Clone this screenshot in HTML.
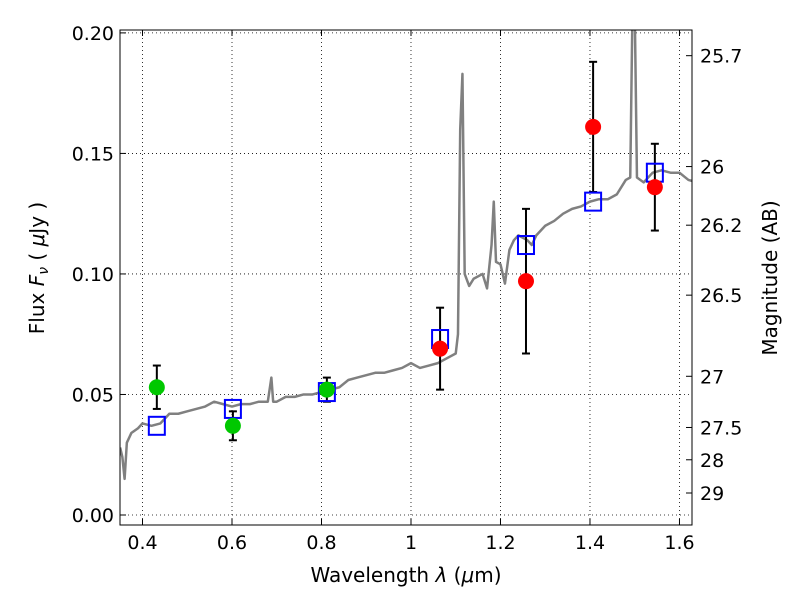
<!DOCTYPE html>
<html><head><meta charset="utf-8"><style>
body{margin:0;background:#fff;}
svg{display:block;font-family:"DejaVu Sans","Liberation Sans",sans-serif;}
</style></head><body>
<svg id="chart" width="800" height="600"></svg>
<script>
const specLam=[0.350,0.355,0.36,0.365,0.375,0.39,0.40,0.42,0.44,0.46,0.48,0.50,0.52,0.54,0.56,0.58,0.60,0.62,0.64,0.66,0.68,0.688,0.692,0.70,0.72,0.74,0.76,0.78,0.80,0.82,0.84,0.86,0.88,0.90,0.92,0.94,0.96,0.98,1.00,1.02,1.04,1.06,1.08,1.10,1.105,1.11,1.115,1.12,1.13,1.14,1.16,1.17,1.18,1.185,1.19,1.20,1.21,1.22,1.23,1.24,1.25,1.26,1.27,1.28,1.30,1.32,1.34,1.36,1.38,1.40,1.42,1.44,1.46,1.48,1.49,1.495,1.50,1.505,1.52,1.54,1.56,1.58,1.60,1.62,1.64];
const specFlux=[0.028,0.024,0.015,0.030,0.034,0.036,0.038,0.037,0.038,0.042,0.042,0.043,0.044,0.045,0.047,0.046,0.045,0.046,0.046,0.047,0.047,0.057,0.047,0.047,0.049,0.049,0.050,0.050,0.051,0.052,0.053,0.056,0.057,0.058,0.059,0.059,0.060,0.061,0.063,0.061,0.062,0.063,0.065,0.067,0.075,0.160,0.183,0.100,0.095,0.098,0.100,0.094,0.112,0.130,0.105,0.104,0.096,0.110,0.114,0.116,0.115,0.114,0.112,0.116,0.120,0.122,0.125,0.127,0.128,0.130,0.131,0.131,0.133,0.139,0.140,0.21,0.21,0.140,0.138,0.142,0.143,0.142,0.142,0.139,0.138];
const greenLam=[0.432,0.602,0.812];
const greenFlux=[0.053,0.037,0.052];
const greenErr=[0.009,0.006,0.005];
const redLam=[1.065,1.257,1.407,1.545];
const redFlux=[0.069,0.097,0.161,0.136];
const redErr=[0.017,0.030,0.027,0.018];
const modelLam=[0.432,0.602,0.812,1.065,1.257,1.407,1.545];
const modelFlux=[0.037,0.044,0.051,0.073,0.112,0.130,0.142];
const xTicks=[0.4,0.6,0.8,1.0,1.2,1.4,1.6];
const xTickLabels=["0.4","0.6","0.8","1","1.2","1.4","1.6"];
const yTicks=[0,0.05,0.10,0.15,0.20];
const yTickLabels=["0.00","0.05","0.10","0.15","0.20"];
const magTicks=[25.7,26,26.2,26.5,27,27.5,28,29];
const magTickLabels=["25.7","26","26.2","26.5","27","27.5","28","29"];

const L=120,R=692,T=30,B=525;
const xmin=0.3497,xmax=1.628, ymin=-0.00415, ymax=0.2012;
const X=v=>L+(v-xmin)/(xmax-xmin)*(R-L);
const Y=v=>B-(v-ymin)/(ymax-ymin)*(B-T);
const NS="http://www.w3.org/2000/svg";
const svg=document.getElementById('chart');
function mk(tag,attrs,parent){const e=document.createElementNS(NS,tag);for(const k in attrs)e.setAttribute(k,attrs[k]);(parent||svg).appendChild(e);return e;}

const defs=mk('defs',{});
const cp=mk('clipPath',{id:'clip'},defs);mk('rect',{x:L,y:T,width:R-L,height:B-T},cp);

xTicks.forEach(v=>{const l=mk('line',{x1:X(v),x2:X(v),y1:T,y2:B,stroke:'#000','stroke-width':0.8,'stroke-dasharray':'1,3'});});
yTicks.forEach(v=>{const l=mk('line',{x1:L,x2:R,y1:Y(v),y2:Y(v),stroke:'#000','stroke-width':0.8,'stroke-dasharray':'1,3'});});

const g=mk('g',{'clip-path':'url(#clip)'});

const sp=mk('polyline',{points:specLam.map((l,i)=>X(l)+','+Y(specFlux[i])).join(' '),fill:'none',stroke:'#808080','stroke-width':2.5,'stroke-linejoin':'round'},g);


function errbar(x,y,e,name){const gg=mk('g',{stroke:'#000','stroke-width':2},g);
 mk('line',{x1:X(x),x2:X(x),y1:Y(y-e),y2:Y(y+e)},gg);
 mk('line',{x1:X(x)-4,x2:X(x)+4,y1:Y(y-e),y2:Y(y-e)},gg);
 mk('line',{x1:X(x)-4,x2:X(x)+4,y1:Y(y+e),y2:Y(y+e)},gg);}
greenLam.forEach((l,i)=>errbar(l,greenFlux[i],greenErr[i],'green-error-bar'));
redLam.forEach((l,i)=>errbar(l,redFlux[i],redErr[i],'red-error-bar'));
modelLam.forEach((l,i)=>{const r=mk('rect',{x:X(l)-8,y:Y(modelFlux[i])-9,width:16,height:18,fill:'none',stroke:'#0000ff','stroke-width':2},g);});
greenLam.forEach((l,i)=>{const c=mk('circle',{cx:X(l),cy:Y(greenFlux[i]),r:8,fill:'#00c800'},g);});
redLam.forEach((l,i)=>{const c=mk('circle',{cx:X(l),cy:Y(redFlux[i]),r:8,fill:'#ff0000'},g);});

const fr=mk('rect',{x:L,y:T,width:R-L,height:B-T,fill:'none',stroke:'#000','stroke-width':1});

xTicks.forEach((v,i)=>{mk('line',{x1:X(v),x2:X(v),y1:B,y2:B-6,stroke:'#000'});mk('line',{x1:X(v),x2:X(v),y1:T,y2:T+6,stroke:'#000'});
 const t=mk('text',{x:X(v),y:B+24,'text-anchor':'middle','font-size':19});t.textContent=xTickLabels[i];});
yTicks.forEach((v,i)=>{mk('line',{x1:L,x2:L+6,y1:Y(v),y2:Y(v),stroke:'#000'});
 const t=mk('text',{x:L-6,y:Y(v)+7,'text-anchor':'end','font-size':19});t.textContent=yTickLabels[i];});
magTicks.forEach((m,i)=>{const y=Y(Math.pow(10,(23.9-m)/2.5));mk('line',{x1:R,x2:R-6,y1:y,y2:y,stroke:'#000'});
 const t=mk('text',{x:R+8,y:y+7,'font-size':19});t.textContent=magTickLabels[i];});
</script>
<svg width="800" height="600" style="position:absolute;left:0;top:0" font-family="DejaVu Sans, Liberation Sans, sans-serif">
<text x="406" y="582" text-anchor="middle" font-size="20">Wavelength  <tspan font-style="italic">λ</tspan> (<tspan font-style="italic">μ</tspan>m)</text>
<text transform="translate(44,268) rotate(-90)" text-anchor="middle" font-size="20">Flux  <tspan font-style="italic">F<tspan font-size="14" dy="4">ν</tspan></tspan><tspan dy="-4">  ( </tspan><tspan font-style="italic">μ</tspan>Jy )</text>
<text transform="translate(777,278) rotate(-90)" text-anchor="middle" font-size="20">Magnitude (AB)</text>
</svg>
</body></html>
